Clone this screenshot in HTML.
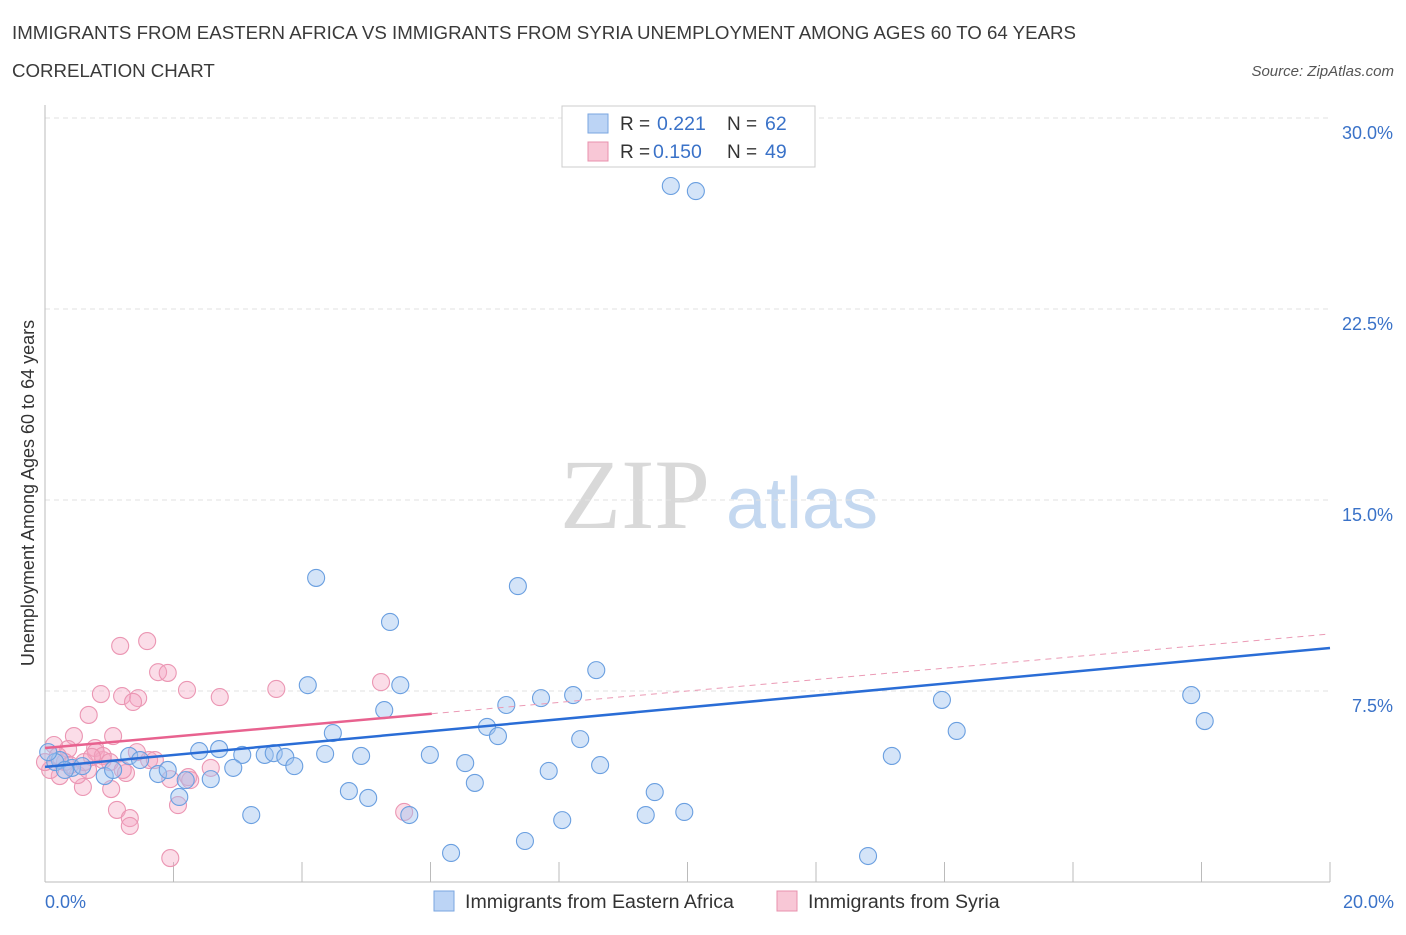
<!DOCTYPE html>
<html><head><meta charset="utf-8"><style>
body{margin:0;background:#fff;font-family:"Liberation Sans",sans-serif;}
</style></head><body>
<svg id="chart" width="1406" height="930" viewBox="0 0 1406 930" xmlns="http://www.w3.org/2000/svg" font-family="Liberation Sans, sans-serif">
<text x="12" y="39" font-size="18.7" fill="#3a3a3a">IMMIGRANTS FROM EASTERN AFRICA VS IMMIGRANTS FROM SYRIA UNEMPLOYMENT AMONG AGES 60 TO 64 YEARS</text>
<text x="12" y="77" font-size="18.7" fill="#3a3a3a">CORRELATION CHART</text>
<text x="1394" y="76" font-size="15" fill="#555" text-anchor="end" font-style="italic">Source: ZipAtlas.com</text>
<g>
<text x="635" y="528" font-size="100" fill="#d9d9d9" text-anchor="middle" style="font-family:'Liberation Serif',serif">ZIP</text>
<text x="802" y="528" font-size="72" fill="#c4d8f0" text-anchor="middle">atlas</text>
</g>
<g id="grid"></g>
<g id="axes"></g>
<g id="marks"></g>
<g>
<rect x="562" y="106" width="253" height="61" fill="#fff" stroke="#ccc"/>
<rect x="588" y="114" width="20" height="19" fill="#bcd4f5" stroke="#7aa6e0"/>
<text x="620" y="130" font-size="19" fill="#333">R = </text><text x="657" y="130" font-size="19.5" fill="#3a72c8">0.221</text>
<text x="727" y="130" font-size="19" fill="#333">N = </text><text x="765" y="130" font-size="19.5" fill="#3a72c8">62</text>
<rect x="588" y="142" width="20" height="19" fill="#f8c7d6" stroke="#e890ad"/>
<text x="620" y="158" font-size="19" fill="#333">R = </text><text x="653" y="158" font-size="19.5" fill="#3a72c8">0.150</text>
<text x="727" y="158" font-size="19" fill="#333">N = </text><text x="765" y="158" font-size="19.5" fill="#3a72c8">49</text>
</g>
<text transform="translate(34,493) rotate(-90)" font-size="18" fill="#333" text-anchor="middle">Unemployment Among Ages 60 to 64 years</text>
<g>
<rect x="434" y="891" width="20" height="20" fill="#bcd4f5" stroke="#7aa6e0"/>
<text x="465" y="908" font-size="19.6" fill="#333">Immigrants from Eastern Africa</text>
<rect x="777" y="891" width="20" height="20" fill="#f8c7d6" stroke="#e890ad"/>
<text x="808" y="908" font-size="19.6" fill="#333">Immigrants from Syria</text>
</g>
</svg>
<script>
const yTicks=[7.5,15,22.5,30];
const yTickLabels=["7.5%","15.0%","22.5%","30.0%"];
const xTickLabels=["0.0%","20.0%"];
const blueX=[9.74,10.13,4.22,7.36,5.37,8.58,4.09,5.53,5.28,7.18,7.72,8.22,13.96,17.84,18.05,6.88,7.05,4.48,14.19,8.33,2.40,2.71,3.07,3.42,3.56,3.74,4.36,4.92,5.99,3.88,8.64,6.54,7.84,2.93,13.18,1.31,1.48,1.76,1.91,2.19,2.58,0.93,1.06,6.69,4.73,5.03,9.49,2.09,3.21,5.67,8.05,9.35,9.95,7.47,6.32,12.81,0.23,0.42,0.16,0.58,0.05,0.31];
const blueY=[27.33,27.13,11.94,11.62,10.21,8.32,7.73,7.73,6.75,6.95,7.22,7.34,7.15,7.34,6.32,6.09,5.73,5.85,5.93,5.61,5.14,5.22,4.99,4.99,5.06,4.91,5.03,4.95,4.99,4.55,4.59,4.67,4.36,4.48,4.95,4.95,4.79,4.24,4.40,4.00,4.04,4.16,4.40,3.89,3.57,3.30,3.53,3.34,2.63,2.63,2.43,2.63,2.75,1.61,1.14,1.02,4.79,4.48,4.71,4.55,5.10,4.40];
const pinkX=[1.59,1.17,1.76,1.91,0.87,1.20,1.45,1.37,2.21,2.72,3.60,5.23,0.68,1.06,0.45,0.14,0.36,0.78,0.90,0.79,1.26,1.62,1.95,2.23,2.58,1.03,0.59,1.12,1.32,1.32,2.07,1.95,5.59,0.23,0.08,0.51,0.67,0.31,0.00,0.20,1.43,0.61,1.71,0.90,1.01,0.39,0.73,1.21,2.26];
const pinkY=[9.46,9.27,8.24,8.21,7.38,7.30,7.22,7.07,7.54,7.26,7.58,7.85,6.56,5.73,5.73,5.38,5.22,5.26,4.79,5.10,4.28,4.79,4.04,4.12,4.48,3.65,3.73,2.83,2.51,2.20,3.02,0.94,2.75,4.16,4.40,4.20,4.40,4.71,4.71,4.95,5.10,4.71,4.79,4.95,4.71,4.59,4.91,4.40,4.00];
const blueTrend=[4.52,9.19];
const pinkTrend=[5.26,9.74];
const pinkSolidEnd=6.02;

const NS="http://www.w3.org/2000/svg";
const X=v=>45+v/20*1285;
const Y=v=>882-v/30*764;
function mk(parent,tag,attrs){const e=document.createElementNS(NS,tag);for(const k in attrs)e.setAttribute(k,attrs[k]);document.getElementById(parent).appendChild(e);return e;}
yTicks.forEach((t,i)=>{
 const l=mk('grid','line',{x1:45,x2:1330,y1:Y(t),y2:Y(t),stroke:'#e2e2e2','stroke-dasharray':'5,4'});
 
 
 const tx=mk('grid','text',{x:1393,y:Y(t)+21,'font-size':18,fill:'#3a72c8','text-anchor':'end'});
 tx.textContent=yTickLabels[i];
 
 
});
const ax=mk('axes','line',{x1:45,x2:45,y1:105,y2:882,stroke:'#bbb'});


const bx=mk('axes','line',{x1:45,x2:1330,y1:882,y2:882,stroke:'#bbb'});


for(let i=1;i<=10;i++){const t=mk('axes','line',{x1:X(i*2),x2:X(i*2),y1:862,y2:882,stroke:'#bbb'});
 
 }
[[0,'start',45],[20,'end',1394]].forEach((d,i)=>{const t=mk('axes','text',{x:d[2],y:908,'font-size':18,fill:'#3a72c8','text-anchor':d[1]});t.textContent=xTickLabels[i];
 
 });
pinkX.forEach((x,i)=>{const c=mk('marks','circle',{cx:X(x),cy:Y(pinkY[i]),r:8.5,fill:'rgba(245,165,195,0.38)',stroke:'#eb96b3','stroke-width':1.1});
 
 });
blueX.forEach((x,i)=>{const c=mk('marks','circle',{cx:X(x),cy:Y(blueY[i]),r:8.5,fill:'rgba(160,195,240,0.45)',stroke:'#6a9fe0','stroke-width':1.1});
 
 });
const pt=v=>pinkTrend[0]+(pinkTrend[1]-pinkTrend[0])*v/20;
const pd=mk('marks','line',{x1:X(pinkSolidEnd),y1:Y(pt(pinkSolidEnd)),x2:X(20),y2:Y(pinkTrend[1]),stroke:'#eb9ab5','stroke-width':1,'stroke-dasharray':'6,5'});


const bl=mk('marks','line',{x1:X(0),y1:Y(blueTrend[0]),x2:X(20),y2:Y(blueTrend[1]),stroke:'#2a6dd6','stroke-width':2.5});


const pl=mk('marks','line',{x1:X(0),y1:Y(pinkTrend[0]),x2:X(pinkSolidEnd),y2:Y(pt(pinkSolidEnd)),stroke:'#e8628f','stroke-width':2.5});


</script>
</body></html>
